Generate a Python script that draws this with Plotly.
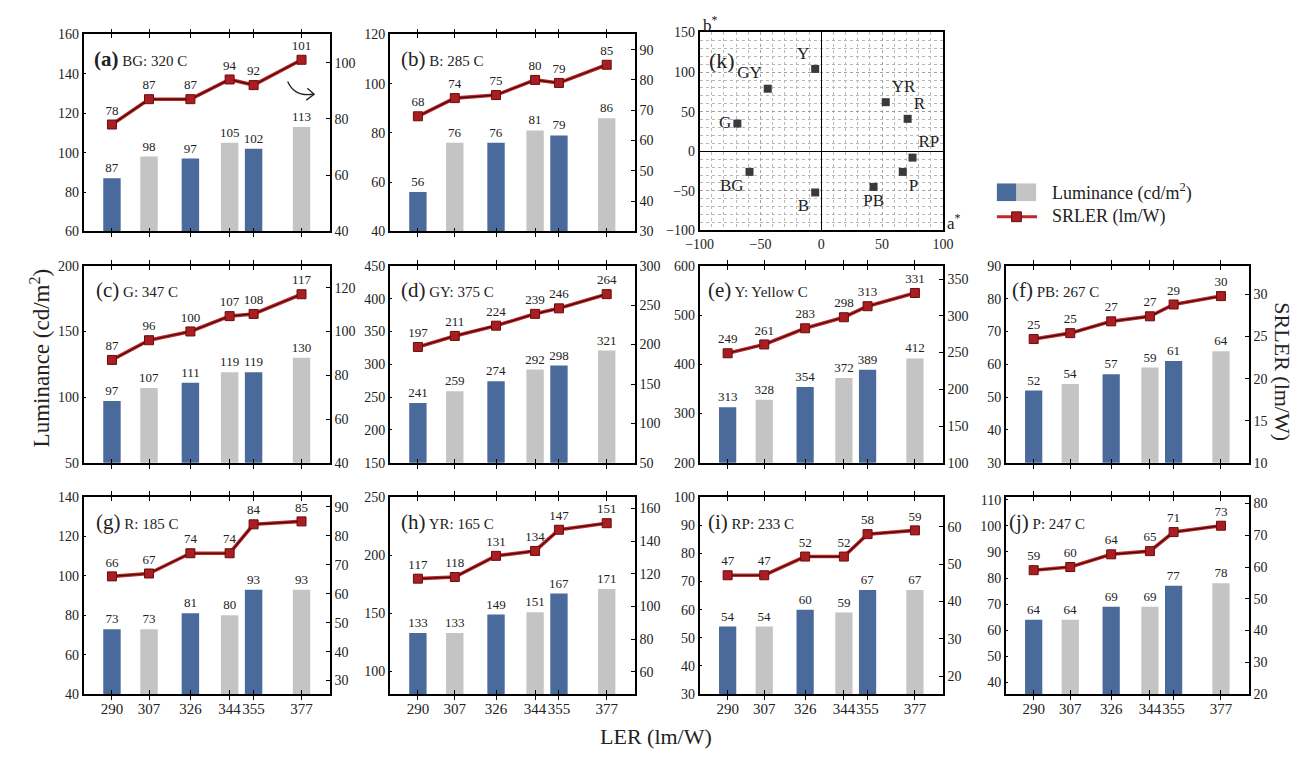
import plotly.graph_objects as go

W, H = 1309, 759

# ---------------- data ----------------
ler = [290, 307, 326, 344, 355, 377]
ler_labels = ["290", "307", "326", "344", "355", "377"]

lum_a = [87, 98, 97, 105, 102, 113]
srler_a = [78, 87, 87, 94, 92, 101]
lum_b = [56, 76, 76, 81, 79, 86]
srler_b = [68, 74, 75, 80, 79, 85]
lum_c = [97, 107, 111, 119, 119, 130]
srler_c = [87, 96, 100, 107, 108, 117]
lum_d = [241, 259, 274, 292, 298, 321]
srler_d = [197, 211, 224, 239, 246, 264]
lum_e = [313, 328, 354, 372, 389, 412]
srler_e = [249, 261, 283, 298, 313, 331]
lum_f = [52, 54, 57, 59, 61, 64]
srler_f = [24.7, 25.4, 26.8, 27.4, 28.8, 29.8]
lum_g = [73, 73, 81, 80, 93, 93]
srler_g = [66, 67, 74, 74, 84, 85]
lum_h = [133, 133, 149, 151, 167, 171]
srler_h = [117, 118, 131, 134, 147, 151]
lum_i = [54, 54, 60, 59, 67, 67]
srler_i = [47, 47, 52, 52, 58, 59]
lum_j = [64, 64, 69, 69, 77, 78]
srler_j = [59, 60, 64, 65, 71, 73]

panel_letters = ["a", "b", "c", "d", "e", "f", "g", "h", "i", "j"]
panel_titles = ["BG: 320 C", "B: 285 C", "G: 347 C", "GY: 375 C", "Y: Yellow C",
                "PB: 267 C", "R: 185 C", "YR: 165 C", "RP: 233 C", "P: 247 C"]
lum_series = [lum_a, lum_b, lum_c, lum_d, lum_e, lum_f, lum_g, lum_h, lum_i, lum_j]
srler_series = [srler_a, srler_b, srler_c, srler_d, srler_e, srler_f,
                srler_g, srler_h, srler_i, srler_j]

# CIELAB a*, b* chart (k)
hue_names = ["Y", "GY", "G", "BG", "B", "YR", "R", "RP", "P", "PB"]
a_star = [-5, -44, -69, -59, -5, 53, 71, 75, 67, 43]
b_star = [104, 79, 35, -26, -52, 62, 41, -8, -26, -45]
hue_textpos = ["top left", "top left", "middle left", "bottom left", "bottom left",
               "top right", "top right", "top right", "bottom right", "bottom center"]

# ---------------- layout geometry (pixels) ----------------
cols = [(71, 322), (383, 633), (699, 947), (1011, 1259)]
rows = [(28, 229), (264, 465), (500, 701)]
panel_cells = [(0, 0), (0, 1), (1, 0), (1, 1), (1, 2), (1, 3), (2, 0), (2, 1), (2, 2), (2, 3)]
k_cell = (0, 2)

left_ranges = [[60, 160], [40, 120], [50, 200], [150, 450], [200, 600],
               [30, 90], [40, 140], [80.5, 250], [30, 100], [35.5, 111]]
left_dticks = [20, 20, 50, 50, 100, 10, 20, 50, 10, 10]
right_ranges = [[40, 110], [30, 95], [40, 130], [50, 300], [100, 368],
                [10, 33.4], [25.3, 93.4], [46.2, 167], [15.2, 67.9], [20, 82]]
right_dticks = [20, 10, 20, 50, 50, 5, 10, 20, 10, 10]


def xd(c):
    return [c[0] / W, c[1] / W]


def yd(r):
    return [1 - r[1] / H, 1 - r[0] / H]


def px(x):
    return x / W


def py(y):
    return 1 - y / H


FONT = "Liberation Serif, Times New Roman, serif"
BLUE = "#4a6a9b"
GRAY = "#c4c4c4"
RED = "#c0282a"
DARK = "#3a0808"
TXT = "#222222"

fig = go.Figure()
layout = dict(
    width=W, height=H,
    margin=dict(l=0, r=0, t=0, b=0),
    paper_bgcolor="white", plot_bgcolor="white",
    showlegend=False,
    font=dict(family=FONT, color=TXT, size=14),
)
annotations = []
shapes = []

bar_colors = [BLUE if i % 2 == 0 else GRAY for i in range(len(ler))]

for n in range(10):
    ax = n + 1
    yl = 2 * n + 1
    yr = 2 * n + 2
    xkey = "xaxis" if ax == 1 else f"xaxis{ax}"
    xref = "x" if ax == 1 else f"x{ax}"
    ylkey = "yaxis" if yl == 1 else f"yaxis{yl}"
    ylref = "y" if yl == 1 else f"y{yl}"
    yrkey = f"yaxis{yr}"
    yrref = f"y{yr}"
    r, c = panel_cells[n]
    bottom = (r == 2)

    layout[xkey] = dict(
        domain=xd(cols[c]), range=[277, 390], anchor=ylref,
        tickvals=ler, ticktext=ler_labels, showticklabels=bottom, tickangle=0,
        ticks="inside", ticklen=4, tickcolor="black",
        showline=True, linecolor="black", linewidth=1.5, mirror="allticks",
        showgrid=False, zeroline=False,
        tickfont=dict(size=15, family=FONT, color=TXT),
    )
    layout[ylkey] = dict(
        domain=yd(rows[r]), range=left_ranges[n], dtick=left_dticks[n], anchor=xref,
        side="left", ticks="inside", ticklen=3, tickcolor="black",
        showline=True, linecolor="black", linewidth=1.5,
        showgrid=False, zeroline=False,
        tickfont=dict(size=14, family=FONT, color=TXT),
    )
    layout[yrkey] = dict(
        range=right_ranges[n], dtick=right_dticks[n], anchor=xref,
        overlaying=ylref, side="right", ticks="inside", ticklen=4, tickcolor="black",
        showline=True, linecolor="black", linewidth=1.5,
        showgrid=False, zeroline=False,
        tickfont=dict(size=14, family=FONT, color=TXT),
    )

    fig.add_trace(go.Bar(
        x=ler, y=lum_series[n], width=8, marker=dict(color=bar_colors, line=dict(width=0)),
        text=lum_series[n], texttemplate="%{y:.0f}", textposition="outside",
        constraintext="none",
        textfont=dict(size=13, family=FONT, color=TXT), cliponaxis=False,
        xaxis=xref, yaxis=ylref,
    ))
    fig.add_trace(go.Scatter(
        x=ler, y=srler_series[n], mode="lines",
        line=dict(color=RED, width=3.6), xaxis=xref, yaxis=yrref, hoverinfo="skip",
    ))
    fig.add_trace(go.Scatter(
        x=ler, y=srler_series[n], mode="lines+markers+text",
        line=dict(color=DARK, width=1.2),
        marker=dict(symbol="square", size=9, color="#a81e22", line=dict(color="#6a0c0c", width=1)),
        texttemplate="%{y:.0f}", textposition="top center",
        textfont=dict(size=13, family=FONT, color=TXT), cliponaxis=False,
        xaxis=xref, yaxis=yrref,
    ))

    x0 = cols[c][0]
    offs = [9, 10, 11, 10, 6, 4, 11, 10, 6, 1]
    letter = f"({panel_letters[n]})"
    if n == 0:
        letter = f"<b>{letter}</b>"
    annotations.append(dict(
        x=px(x0 + offs[n]), y=py(rows[r][0] + 25), xref="paper", yref="paper",
        xanchor="left", yanchor="middle", showarrow=False,
        text=f"<span style='font-size:21px'>{letter}</span> {panel_titles[n]}",
        font=dict(size=15, family=FONT, color=TXT),
    ))

# ---------------- panel (k) ----------------
kr, kc = k_cell
layout["xaxis11"] = dict(
    domain=xd(cols[kc]), range=[-100, 100], dtick=50, anchor="y21",
    ticks="", showline=True, linecolor="black", linewidth=1.5, mirror=True,
    showgrid=True, gridcolor="#a0a0a0", griddash="dot", gridwidth=1,
    minor=dict(dtick=10, showgrid=True, gridcolor="#b8b8b8", griddash="dot", gridwidth=1),
    zeroline=True, zerolinecolor="black", zerolinewidth=1.3,
    tickfont=dict(size=14, family=FONT, color=TXT),
)
layout["yaxis21"] = dict(
    domain=yd((26, 228)), range=[-100, 150], dtick=50, anchor="x11",
    ticks="", showline=True, linecolor="black", linewidth=1.5, mirror=True,
    showgrid=True, gridcolor="#a0a0a0", griddash="dot", gridwidth=1,
    minor=dict(dtick=10, showgrid=True, gridcolor="#b8b8b8", griddash="dot", gridwidth=1),
    zeroline=True, zerolinecolor="black", zerolinewidth=1.3,
    tickfont=dict(size=14, family=FONT, color=TXT),
)
fig.add_trace(go.Scatter(
    x=a_star, y=b_star, mode="markers+text", text=hue_names, textposition=hue_textpos,
    marker=dict(symbol="square", size=8, color="#3a3a3a"),
    textfont=dict(size=17, family=FONT, color=TXT), cliponaxis=False,
    xaxis="x11", yaxis="y21",
))
annotations.append(dict(x=px(706), y=py(55), xref="paper", yref="paper", xanchor="left",
                        yanchor="middle", showarrow=False, text="(k)",
                        font=dict(size=22, family=FONT, color=TXT)))
annotations.append(dict(x=px(700), y=py(17), xref="paper", yref="paper", xanchor="left",
                        yanchor="middle", showarrow=False, text="b<sup>*</sup>",
                        font=dict(size=17, family=FONT, color=TXT)))
annotations.append(dict(x=px(949), y=py(219), xref="paper", yref="paper", xanchor="left",
                        yanchor="middle", showarrow=False, text="a<sup>*</sup>",
                        font=dict(size=17, family=FONT, color=TXT)))

# ---------------- axis titles ----------------
annotations.append(dict(x=px(27), y=py(358), xref="paper", yref="paper", showarrow=False,
                        xanchor="center", yanchor="middle",
                        textangle=-90, text="Luminance (cd/m<sup>2</sup>)",
                        font=dict(size=23, family=FONT, color=TXT)))
annotations.append(dict(x=px(1293), y=py(372), xref="paper", yref="paper", showarrow=False,
                        xanchor="center", yanchor="middle",
                        textangle=90, text="SRLER (lm/W)",
                        font=dict(size=22, family=FONT, color=TXT)))
annotations.append(dict(x=px(655), y=py(744), xref="paper", yref="paper", showarrow=False,
                        xanchor="center", yanchor="middle",
                        text="LER (lm/W)", font=dict(size=22, family=FONT, color=TXT)))

# ---------------- legend (drawn) ----------------
shapes.append(dict(type="rect", xref="paper", yref="paper", x0=px(1002), x1=px(1022),
                   y0=py(198), y1=py(180), fillcolor=BLUE, line=dict(width=0)))
shapes.append(dict(type="rect", xref="paper", yref="paper", x0=px(1022), x1=px(1042),
                   y0=py(198), y1=py(180), fillcolor=GRAY, line=dict(width=0)))
shapes.append(dict(type="line", xref="paper", yref="paper", x0=px(1002), x1=px(1043),
                   y0=py(214), y1=py(214), line=dict(color=RED, width=3)))
shapes.append(dict(type="rect", xref="paper", yref="paper", x0=px(1017), x1=px(1027),
                   y0=py(219), y1=py(209), fillcolor="#a81e22", line=dict(color="#6a0c0c", width=1)))
annotations.append(dict(x=px(1056), y=py(189), xref="paper", yref="paper", xanchor="left",
                        yanchor="middle", showarrow=False, text="Luminance (cd/m<sup>2</sup>)",
                        font=dict(size=18, family=FONT, color=TXT)))
annotations.append(dict(x=px(1056), y=py(214), xref="paper", yref="paper", xanchor="left",
                        yanchor="middle", showarrow=False, text="SRLER (lm/W)",
                        font=dict(size=18, family=FONT, color=TXT)))

# curved arrow in panel (a) pointing to right axis
p = lambda x, y: f"{px(x):.5f},{py(y):.5f}"
shapes.append(dict(type="path", xref="paper", yref="paper",
                   path=f"M {p(279, 76)} Q {p(286, 92)} {p(305, 89)}",
                   line=dict(color="#222", width=1.3)))
shapes.append(dict(type="path", xref="paper", yref="paper",
                   path=f"M {p(299, 83)} L {p(306, 89)} L {p(298, 95)}",
                   line=dict(color="#222", width=1.3)))

layout["annotations"] = annotations
layout["shapes"] = shapes
fig.update_layout(**layout)
fig.write_html("out.html")
